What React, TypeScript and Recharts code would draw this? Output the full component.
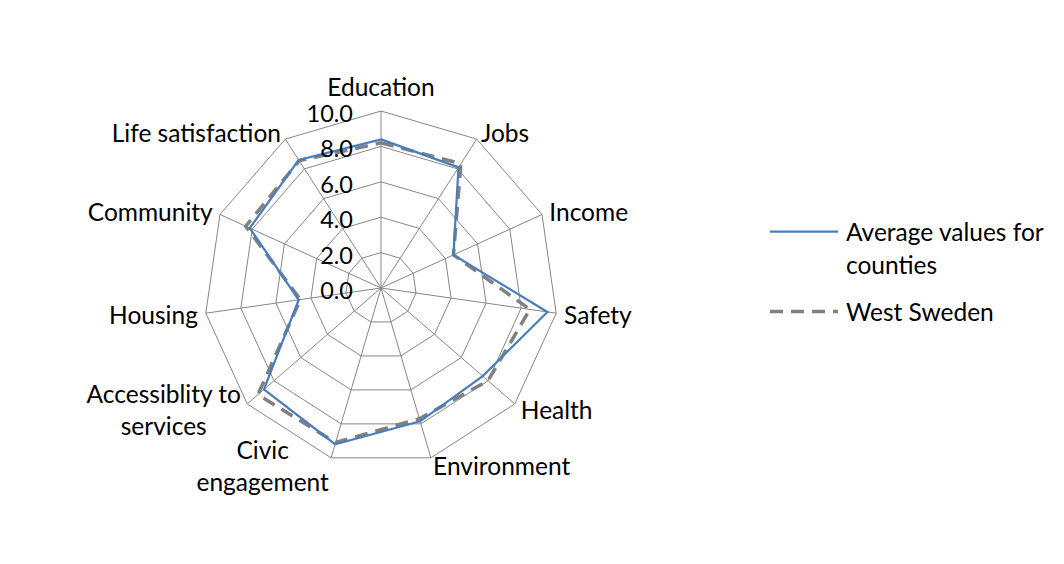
import { Customized, Legend, PolarAngleAxis, PolarGrid, PolarRadiusAxis, Radar, RadarChart } from "recharts";

const categories = [
  "Education",
  "Jobs",
  "Income",
  "Safety",
  "Health",
  "Environment",
  "Civic engagement",
  "Accessiblity to services",
  "Housing",
  "Community",
  "Life satisfaction",
];

// line breaks used when a category name is drawn on two rows
const labelLines: Record<string, string[]> = {
  "Civic engagement": ["Civic", "engagement"],
  "Accessiblity to services": ["Accessiblity to", "services"],
};

const countyAverage = [8.4, 8.1, 4.5, 9.5, 7.6, 7.85, 9.2, 8.75, 4.7, 8.15, 8.6];
const westSweden = [8.2, 8.35, 4.5, 8.5, 8.0, 7.7, 9.1, 9.2, 4.6, 8.4, 8.55];

const radiusTicks = [0, 2, 4, 6, 8, 10];

const seriesNames = ["Average values for counties", "West Sweden"];

const data = categories.map((name, i) => ({
  name,
  avg: countyAverage[i],
  west: westSweden[i],
}));

const FONT = "Lato, 'Open Sans', sans-serif";
const FONT_SIZE = 24.5;

let canvas: HTMLCanvasElement | null = null;
function textWidth(s: string) {
  if (!canvas) canvas = document.createElement("canvas");
  const ctx = canvas.getContext("2d")!;
  ctx.font = `${FONT_SIZE}px Lato`;
  return ctx.measureText(s).width;
}

function AngleTick(props: any) {
  const { x, y, textAnchor, payload } = props;
  const lines = labelLines[payload.value] ?? [payload.value];
  const lineH = 32;
  let cy = y - ((lines.length - 1) * lineH) / 2;
  if (textAnchor === "middle") cy = y - 17;
  let cx = x;
  let anchor = textAnchor;
  if (lines.length > 1) {
    const w = Math.max(...lines.map(textWidth));
    cx = textAnchor === "end" ? x - w / 2 : textAnchor === "start" ? x + w / 2 : x;
    anchor = "middle";
  }
  return (
    <text fontFamily={FONT} fontSize={FONT_SIZE} fill="#000" textAnchor={anchor}>
      {lines.map((l, i) => (
        <tspan key={i} x={cx} y={cy + i * lineH} dominantBaseline="central">
          {l}
        </tspan>
      ))}
    </text>
  );
}

function RadiusTick(props: any) {
  const { x, y, payload } = props;
  return (
    <text x={x - 28} y={y + 2} fontFamily={FONT} fontSize={23.5} textAnchor="end" dominantBaseline="central" fill="#000">
      {Number(payload.value).toFixed(1)}
    </text>
  );
}

// chart area frame; only its left and top edges fall inside the page
function Frame() {
  return (
    <path d="M 7 564 L 7 7 L 1064 7" fill="none" stroke="#a0a0a0" strokeWidth={2} />
  );
}

function LegendBox() {
  return (
    <div style={{ fontFamily: FONT, fontSize: FONT_SIZE, color: "#000", lineHeight: "33px" }}>
      <div style={{ display: "flex", alignItems: "flex-start" }}>
        <svg width={76} height={33}>
          <line x1={0} y1={16.5} x2={68} y2={16.5} stroke="#4a7ebb" strokeWidth={2.25} />
        </svg>
        <div>
          Average values for
          <br />
          counties
        </div>
      </div>
      <div style={{ display: "flex", alignItems: "flex-start", marginTop: 14 }}>
        <svg width={76} height={33}>
          <line x1={0} y1={16.5} x2={68} y2={16.5} stroke="#808080" strokeWidth={3.5} strokeDasharray="13 8" />
        </svg>
        <div>West Sweden</div>
      </div>
    </div>
  );
}

export default function App() {
  return (
    <div style={{ position: "relative", margin: -8, width: 1064, height: 564, overflow: "hidden", background: "#fff" }}>
      <RadarChart width={1064} height={564} data={data} cx={381} cy={288} outerRadius={177} margin={{ top: 0, right: 0, bottom: 0, left: 0 }}>
        <Customized component={Frame} />
        <PolarGrid gridType="polygon" stroke="#868686" strokeWidth={1} />
        <PolarAngleAxis dataKey="name" tick={<AngleTick />} tickLine={false} axisLine={false} />
        <PolarRadiusAxis
          angle={90}
          domain={[0, 10]}
          ticks={radiusTicks as any}
          tickCount={6}
          axisLine={false}
          tickLine={false}
          tick={<RadiusTick />}
        />
        <Radar
          name={seriesNames[1]}
          dataKey="west"
          stroke="#808080"
          strokeWidth={3.5}
          strokeDasharray="13 8"
          fill="none"
          fillOpacity={0}
          dot={false}
          isAnimationActive={false}
        />
        <Radar
          name={seriesNames[0]}
          dataKey="avg"
          stroke="#4a7ebb"
          strokeWidth={2.25}
          fill="none"
          fillOpacity={0}
          dot={false}
          isAnimationActive={false}
        />
        <Legend
          content={<LegendBox />}
          wrapperStyle={{ position: "absolute", left: 770, top: 215, width: 290 }}
        />
      </RadarChart>
    </div>
  );
}
